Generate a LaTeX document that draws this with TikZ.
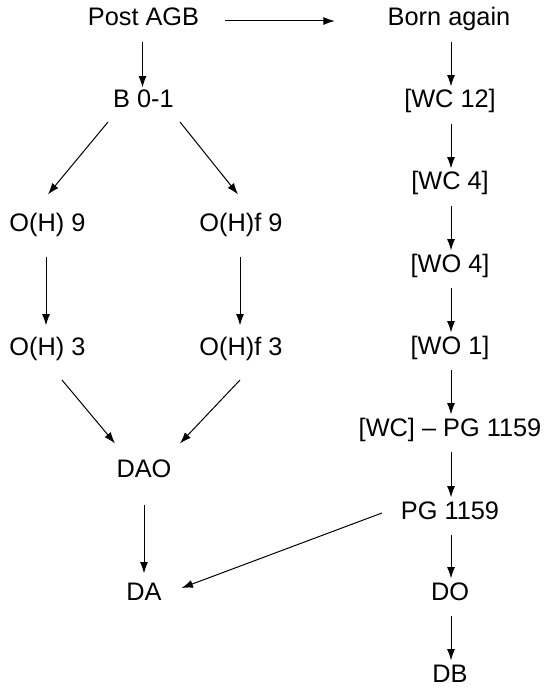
\documentclass[tikz,border=0pt]{standalone}
\usepackage{fontspec}
\setmainfont{Liberation Sans}
\usetikzlibrary{arrows.meta,calc}
\begin{document}
\begin{tikzpicture}[x=0.75pt,y=-0.75pt,
  lbl/.style={inner sep=0pt,outer sep=0pt,font=\fontsize{19pt}{23pt}\selectfont,text height=0.72em,text depth=0pt,anchor=base},
  arr/.style={line width=0.75pt,-{Latex[length=8.5pt,width=6pt]}}]
\useasboundingbox (0,0) rectangle (544,688);
% left part
\node[lbl] (pagb) at (143.5,26) {Post AGB};
\node[lbl] (b01) at (143.5,108) {B 0-1};
\node[lbl] (oh9) at (47.5,231) {O(H) 9};
\node[lbl] (ohf9) at (241,231) {O(H)f 9};
\node[lbl] (oh3) at (47.5,355) {O(H) 3};
\node[lbl] (ohf3) at (241,355) {O(H)f 3};
\node[lbl] (dao) at (144,477) {DAO};
\node[lbl] (da) at (144,600) {DA};
% right column
\node[lbl] (born) at (449,26) {Born again};
\node[lbl] (wc12) at (450,108) {[WC 12]};
\node[lbl] (wc4) at (450,190) {[WC 4]};
\node[lbl] (wo4) at (450,272) {[WO 4]};
\node[lbl] (wo1) at (450,354) {[WO 1]};
\node[lbl] (wcpg) at (450,436) {[WC] – PG 1159};
\node[lbl] (pg) at (450,519) {PG 1159};
\node[lbl] (do) at (450,600) {DO};
\node[lbl] (db) at (450,682) {DB};
% arrows
\draw[arr] ($(pagb.base east)+(26,-5)$) -- ($(born.base west)+(-53,-5)$);
\draw[arr] ($(pagb.base)+(-1,16)$) -- ($(b01.north)+(-1,-11)$);
\draw[arr] ($(b01.base)+(-35.5,14)$) -- ($(oh9.north)+(0.5,-27)$);
\draw[arr] ($(b01.base)+(36.5,14)$) -- ($(ohf9.north)+(-3,-27)$);
\draw[arr] ($(oh9.base)+(-1.5,26)$) -- ($(oh3.north)+(-1.5,-20)$);
\draw[arr] ($(ohf9.base)+(-1,26)$) -- ($(ohf3.north)+(-1,-20)$);
\draw[arr] ($(oh3.base)+(14.5,25)$) -- ($(dao.north)+(-29,-24)$);
\draw[arr] ($(ohf3.base)+(-1,25)$) -- ($(dao.north)+(36,-24)$);
\draw[arr] ($(dao.base)+(0,28)$) -- ($(da.north)+(0,-17)$);
\draw[arr] ($(pg.base west)+(-19,-6)$) -- ($(da.base east)+(20,-12)$);
\draw[arr] ($(born.base)+(2,16)$) -- ($(wc12.north)+(1,-12)$);
\draw[arr] ($(wc12.base)+(1,16)$) -- ($(wc4.north)+(1,-12)$);
\draw[arr] ($(wc4.base)+(1,16)$) -- ($(wo4.north)+(1,-12)$);
\draw[arr] ($(wo4.base)+(1,16)$) -- ($(wo1.north)+(1,-12)$);
\draw[arr] ($(wo1.base)+(1,16)$) -- ($(wcpg.north)+(1,-12)$);
\draw[arr] ($(wcpg.base)+(1,16)$) -- ($(pg.north)+(1,-12)$);
\draw[arr] ($(pg.base)+(1,16)$) -- ($(do.north)+(1,-12)$);
\draw[arr] ($(do.base)+(1,16)$) -- ($(db.north)+(1,-12)$);
\end{tikzpicture}
\end{document}
